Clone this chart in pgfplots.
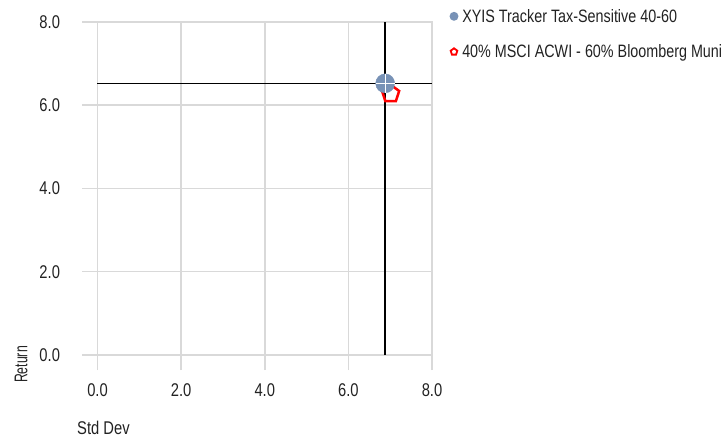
\documentclass[border=0pt]{standalone}
\usepackage{pgfplots}
\pgfplotsset{compat=1.18}
\usetikzlibrary{plotmarks}
\usepackage{fontspec}
\setmainfont{Liberation Sans}[FakeStretch=0.8]

\definecolor{gridgray}{HTML}{D9D9D9}
\definecolor{dotblue}{HTML}{7892B6}
\definecolor{benchred}{HTML}{FF0000}
\definecolor{txt}{HTML}{222222}

\begin{document}
\begin{tikzpicture}
\begin{axis}[
    at={(0,0)}, anchor=south west,
    scale only axis, width=334.5bp, height=333.3bp,
    xmin=0, xmax=8, ymin=0, ymax=8,
    xtick={0,2,...,8}, ytick={0,2,...,8},
    axis line style={draw=gridgray, line width=1.6bp},
    grid=major,
    major grid style={draw=gridgray, line width=1.6bp},
    major tick style={draw=gridgray, line width=1.6bp},
    major tick length=15bp, tick align=outside,
    xtick pos=left, ytick pos=left,
    clip=false,
    /pgf/number format/assume math mode=true,
    /pgf/number format/.cd, fixed, fixed zerofill, precision=1, /pgfplots/.cd,
    tick label style={font=\fontsize{18.5}{20}\selectfont, text=txt},
    xticklabel style={yshift=-10bp},
    yticklabel style={xshift=-19bp},
    legend style={at={(1.051,1.043)}, anchor=north west, draw=none, fill=none,
        inner sep=0pt, row sep=18bp, font=\fontsize{18}{20}\selectfont,
        nodes={text=txt, inner sep=1.5bp}},
    legend cell align=left,
    reverse legend,
    legend image code/.code={\path (0bp,0bp) (9bp,0bp);
        \draw[#1, mark size=3.5bp, line width=1.8bp] plot coordinates {(3.5bp,0bp)};},
]
% crosshair through the fund
\addplot[black, line width=1.5bp, forget plot] coordinates {(6.88,0) (6.88,8)};
\addplot[black, line width=1.5bp, forget plot] coordinates {(0,6.52) (8,6.52)};
% benchmark
\addplot[only marks, mark=pentagon, mark size=9bp, draw=benchred, line width=2.5bp,
    mark options={fill=none}] coordinates {(7.01,6.27)};
% fund
\addplot[only marks, mark=*, mark size=9.5bp, draw=dotblue, fill=dotblue]
    coordinates {(6.88,6.52)};
\addplot[only marks, mark=+, mark size=9.5bp, draw=white, line width=1bp, forget plot]
    coordinates {(6.88,6.52)};
\legend{40\% MSCI ACWI - 60\% Bloomberg Muni, XYIS Tracker Tax-Sensitive 40-60}
\end{axis}
\node[rotate=90, anchor=base, text=txt, font=\fontsize{18.5}{20}\selectfont] at (-70bp,-9.5bp) {\scalebox{0.83}[1]{Return}};
\node[anchor=base west, text=txt, font=\fontsize{18.5}{20}\selectfont, inner sep=0pt] at (-20.5bp,-79.5bp) {Std Dev};
\pgfresetboundingbox
\path[use as bounding box] (-97.5bp,-82bp) rectangle (627.5bp,355bp);
\end{tikzpicture}
\end{document}
